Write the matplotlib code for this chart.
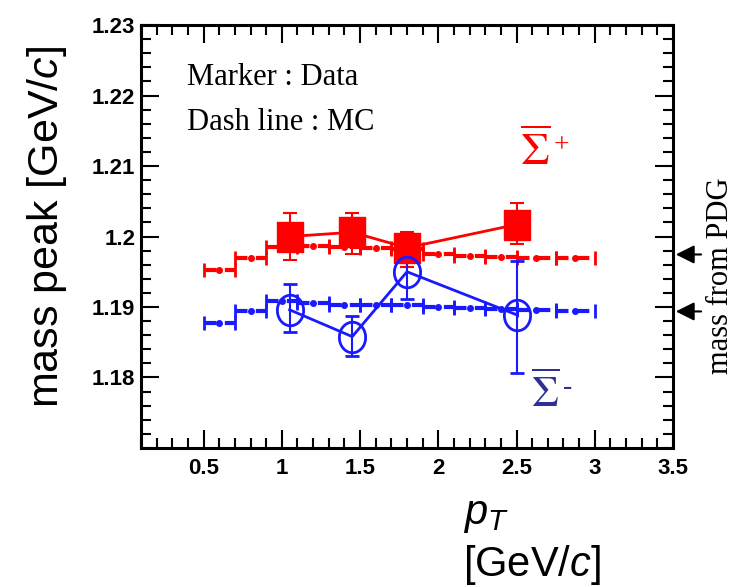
import numpy as np
import matplotlib
matplotlib.use("Agg")
import matplotlib.pyplot as plt
from matplotlib.ticker import MultipleLocator

plt.rcParams['font.family'] = ['Liberation Sans', 'DejaVu Sans']
plt.rcParams['mathtext.fontset'] = 'custom'
plt.rcParams['mathtext.rm'] = 'Liberation Sans'
plt.rcParams['mathtext.it'] = 'Liberation Sans:italic'
plt.rcParams['mathtext.bf'] = 'Liberation Sans:bold'

# data points (markers)
pt_data = [1.05, 1.45, 1.8, 2.5]
sigp_mass = [1.2000, 1.2006, 1.1984, 1.2017]
sigp_err_lo = [0.0033, 0.0031, 0.0027, 0.0028]
sigp_err_hi = [0.0033, 0.0028, 0.0023, 0.0030]
sigm_mass = [1.1896, 1.1858, 1.1950, 1.1889]
sigm_err_lo = [0.0032, 0.0028, 0.0039, 0.0082]
sigm_err_hi = [0.0036, 0.0029, 0.0039, 0.0076]

# MC (dashed) in pT bins
mc_edges = [0.5, 0.7, 0.9, 1.1, 1.3, 1.5, 1.7, 1.9, 2.1, 2.3, 2.5, 2.75, 3.0]
sigp_mc = [1.1953, 1.1970, 1.1985, 1.1986, 1.1985, 1.1984, 1.1982, 1.1975, 1.1972, 1.1971, 1.1970, 1.1970]
sigm_mc = [1.1878, 1.1895, 1.1908, 1.1905, 1.1903, 1.1903, 1.1903, 1.1900, 1.1898, 1.1897, 1.1896, 1.1895]

# PDG masses (arrows on the right)
pdg_mass = [1.19745, 1.18937]

red = '#ff0000'
blue = '#1a1aff'
navy = '#2e3192'

# slightly tall marker shapes, like in the original
rect_marker = [(-0.42, -0.5), (0.42, -0.5), (0.42, 0.5), (-0.42, 0.5), (-0.42, -0.5)]
th = np.linspace(0, 2 * np.pi, 61)
ell_marker = list(zip(0.43 * np.cos(th), 0.5 * np.sin(th)))

fig = plt.figure(figsize=(7.44, 5.87), dpi=100)
ax = fig.add_axes([0.1895, 0.2368, 0.7151, 0.7206])

edges = np.array(mc_edges)
centers = (edges[:-1] + edges[1:]) / 2
halfw = (edges[1:] - edges[:-1]) / 2

for yv, col in [(sigp_mc, red), (sigm_mc, blue)]:
    eb = ax.errorbar(centers, yv, xerr=halfw, fmt='o', ms=4, color=col,
                     capsize=5, capthick=2, elinewidth=3, zorder=2)
    eb[2][0].set_linestyle((0, (3, 2)))

ax.errorbar(pt_data, sigp_mass, yerr=[sigp_err_lo, sigp_err_hi], fmt='-', marker=rect_marker,
            color=red, ms=22, lw=2, elinewidth=1.5, capsize=5, capthick=1.5, zorder=4)
ax.errorbar(pt_data, sigm_mass, yerr=[sigm_err_lo, sigm_err_hi], fmt='-', marker=ell_marker,
            color=blue, mfc='none', mew=2, ms=22, lw=2, elinewidth=1.5, capsize=5,
            capthick=1.5, zorder=4)

ax.set_xlim(0.1, 3.5)
ax.set_ylim(1.17, 1.23)
ax.set_xticks([0.5, 1, 1.5, 2, 2.5, 3, 3.5])
ax.set_xticklabels(['0.5', '1', '1.5', '2', '2.5', '3', '3.5'])
ax.set_yticks([1.18, 1.19, 1.2, 1.21, 1.22, 1.23])
ax.set_yticklabels(['1.18', '1.19', '1.2', '1.21', '1.22', '1.23'])
ax.xaxis.set_minor_locator(MultipleLocator(0.1))
ax.yaxis.set_minor_locator(MultipleLocator(0.002))
ax.tick_params(which='both', direction='in', top=True, right=True, width=1.5)
ax.tick_params(which='major', length=13)
ax.tick_params(which='minor', length=7)
ax.tick_params(axis='x', pad=7)
ax.tick_params(axis='y', pad=4)
for lab in ax.get_xticklabels() + ax.get_yticklabels():
    lab.set_fontsize(16)
    lab.set_fontweight('bold')
for sp in ax.spines.values():
    sp.set_linewidth(2.2)

serif = ['Liberation Serif', 'DejaVu Serif']
ax.text(0.394, 1.2226, 'Marker : Data', family=serif, fontsize=22, va='center')
ax.text(0.394, 1.2161, 'Dash line : MC', family=serif, fontsize=22, va='center')
ax.text(2.52, 1.2101, r'$\overline{\Sigma}$', color=red, fontsize=33,
        math_fontfamily='stix', va='baseline')
ax.text(2.74, 1.2120, '+', color=red, family=serif, fontsize=20, va='baseline')
ax.text(2.59, 1.1758, r'$\overline{\Sigma}$', color=navy, fontsize=31,
        math_fontfamily='stix', va='baseline')
ax.text(2.80, 1.1777, '-', color=navy, family=serif, fontsize=20, va='baseline')

for m in pdg_mass:
    ax.annotate('', xy=(1.0, m), xycoords=('axes fraction', 'data'),
                xytext=(1.058, m), textcoords=('axes fraction', 'data'),
                arrowprops=dict(arrowstyle='-|>', color='k', lw=1.5, mutation_scale=28),
                annotation_clip=False)

fig.text(0.968, 0.530, 'mass from PDG', family=serif, fontsize=22, rotation=90,
         ha='center', va='center')
fig.text(0.063, 0.613, 'mass peak [GeV/$c$]', fontsize=31, rotation=90,
         ha='center', va='center')
fig.text(0.622, 0.123, r'$p_T$', fontsize=30, ha='left', va='center')
fig.text(0.622, 0.0375, '[GeV/$c$]', fontsize=30, ha='left', va='center')

fig.savefig('out.png', dpi=100)
